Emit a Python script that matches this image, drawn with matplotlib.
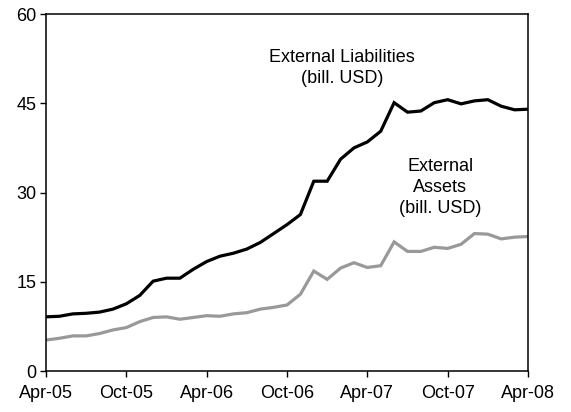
import matplotlib
matplotlib.use("Agg")
import matplotlib.pyplot as plt
import numpy as np

# monthly, Apr-05 .. Apr-08
liabilities = [9.1, 9.2, 9.6, 9.7, 9.9, 10.4, 11.3, 12.7, 15.1, 15.6, 15.6, 17.1,
               18.4, 19.3, 19.8, 20.5, 21.6, 23.1, 24.6, 26.3, 31.9, 31.9, 35.6, 37.5,
               38.5, 40.3, 45.1, 43.5, 43.7, 45.1, 45.6, 44.9, 45.4, 45.6, 44.5, 43.9, 44.0]
assets = [5.2, 5.5, 5.9, 5.9, 6.3, 6.9, 7.3, 8.3, 9.0, 9.1, 8.7, 9.0,
          9.3, 9.2, 9.6, 9.8, 10.4, 10.7, 11.1, 12.9, 16.8, 15.4, 17.3, 18.2,
          17.4, 17.7, 21.7, 20.1, 20.1, 20.8, 20.6, 21.3, 23.1, 23.0, 22.2, 22.5, 22.6]
tick_labels = ["Apr-05", "Oct-05", "Apr-06", "Oct-06", "Apr-07", "Oct-07", "Apr-08"]

plt.rc('font', family=['Liberation Sans', 'DejaVu Sans'], size=13)

fig = plt.figure(figsize=(5.71, 4.12), dpi=100)
ax = fig.add_axes([0.0806, 0.0995, 0.8441, 0.8665])

x = np.arange(len(liabilities))
ax.plot(x, liabilities, color='black', lw=2.3, solid_joinstyle='miter')
ax.plot(x, assets, color='#999999', lw=2.3, solid_joinstyle='miter')

ax.set_xlim(0, len(liabilities) - 1)
ax.set_ylim(0, 60)
ax.set_yticks([0, 15, 30, 45, 60])
ax.set_xticks(np.arange(0, len(liabilities), 6))
ax.set_xticklabels(tick_labels)
ax.tick_params(direction='out', length=4, width=1, colors='black', pad=6)
ax.tick_params(axis='y', pad=3)
for s in ax.spines.values():
	s.set_linewidth(1.1)

ax.text(22.1, 51.0, "External Liabilities\n(bill. USD)", ha='center', va='center',
        linespacing=1.3)
ax.text(29.45, 30.8, "External\nAssets\n(bill. USD)", ha='center', va='center',
        linespacing=1.32)

fig.savefig("out.png", dpi=100)
